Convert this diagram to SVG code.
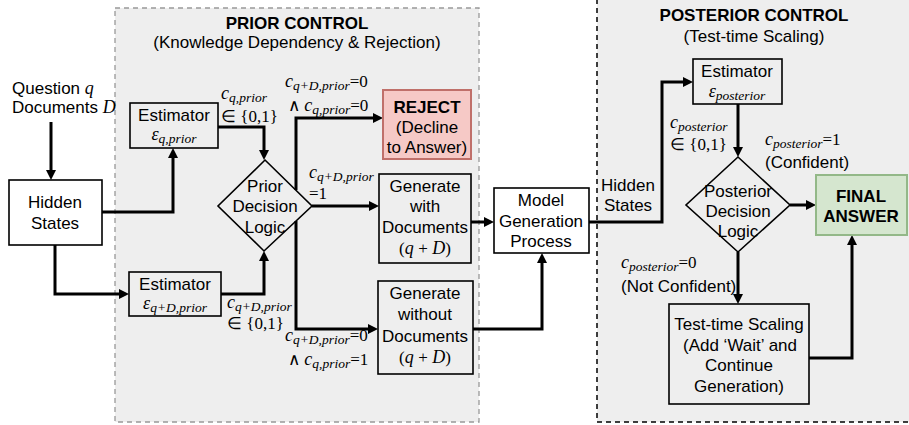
<svg xmlns="http://www.w3.org/2000/svg" width="909" height="425" viewBox="0 0 909 425">
  <style>
    .t { font-family: "Liberation Sans", Arial, sans-serif; font-size: 17px; fill: #000; }
    .c { text-anchor: middle; }
    .b { font-weight: bold; }
    .m { font-family: "Liberation Serif", "Times New Roman", serif; font-style: italic; font-size: 18px; fill: #000; }
    .s { font-size: 13.5px; }
    .u { font-style: normal; font-size: 17px; }
    .box { fill: none; stroke: #000; stroke-width: 1.6; }
    .wbox { fill: #fff; stroke: #000; stroke-width: 1.6; }
    .conn { fill: none; stroke: #000; stroke-width: 3; marker-end: url(#ah); }
  </style>
  <defs>
    <marker id="ah" markerWidth="11" markerHeight="10" refX="0" refY="5" orient="auto" markerUnits="userSpaceOnUse">
      <path d="M0,0 L10,5 L0,10 z" fill="#000"/>
    </marker>
  </defs>

  <rect width="909" height="425" fill="#fff"/>

  <!-- control regions -->
  <g id="prior-control">
    <rect x="115" y="8" width="364" height="414" fill="#eeeeee" stroke="#999" stroke-width="1.3" stroke-dasharray="5,4"/>
    <text class="t c b" x="297" y="29" font-size="18.5">PRIOR CONTROL</text>
    <text class="t c" x="297" y="48" font-size="16.5">(Knowledge Dependency &amp; Rejection)</text>
  </g>
  <g id="posterior-control">
    <rect x="597" y="-5" width="320" height="427" fill="#eeeeee" stroke="#000" stroke-width="1.5" stroke-dasharray="5,4"/>
    <text class="t c b" x="754" y="21" font-size="18.5">POSTERIOR CONTROL</text>
    <text class="t c" x="754" y="42" font-size="16.5">(Test-time Scaling)</text>
  </g>

  <!-- connectors -->
  <g id="connectors">
    <path class="conn" d="M51,122 V170"/>
    <path class="conn" d="M102,212 H173 V158"/>
    <path class="conn" d="M55,245 V294 H119"/>
    <path class="conn" d="M218,127 H264 V150"/>
    <path class="conn" d="M221,294 H264 V261"/>
    <path class="conn" d="M296,190 V118 H373"/>
    <path class="conn" d="M312,206 H369"/>
    <path class="conn" d="M296,221 V329 H368"/>
    <path class="conn" d="M471,222 H484"/>
    <path class="conn" d="M473,329 H542 V263"/>
    <path class="conn" d="M589,222 H662 V82 H683"/>
    <path class="conn" d="M738,104 V147"/>
    <path class="conn" d="M790,205 H806"/>
    <path class="conn" d="M738,252 V294"/>
    <path class="conn" d="M809,358 H852 V245"/>
  </g>

  <!-- inputs -->
  <g id="inputs">
    <text class="t" x="12" y="94">Question <tspan class="m" font-size="18">q</tspan></text>
    <text class="t" x="12" y="113">Documents <tspan class="m" font-size="18">D</tspan></text>
  </g>

  <g id="hidden-states">
    <rect class="wbox" x="9" y="180" width="93" height="65"/>
    <text class="t c" x="55" y="208">Hidden</text>
    <text class="t c" x="55" y="229">States</text>
  </g>

  <g id="estimator-q-prior">
    <rect class="box" x="130" y="103" width="88" height="45"/>
    <text class="t c" x="174" y="121">Estimator</text>
    <text class="m c" x="174" y="140">ε<tspan class="s" dy="3">q,prior</tspan></text>
  </g>

  <g id="estimator-qd-prior">
    <rect class="box" x="129" y="272" width="92" height="44"/>
    <text class="t c" x="175" y="290">Estimator</text>
    <text class="m c" x="175" y="309">ε<tspan class="s" dy="3">q+D,prior</tspan></text>
  </g>

  <g id="prior-decision">
    <path class="box" d="M265,160 L312,206 L264,251 L218,206 Z"/>
    <text class="t c" x="265" y="192">Prior</text>
    <text class="t c" x="265" y="212">Decision</text>
    <text class="t c" x="265" y="233">Logic</text>
  </g>

  <g id="reject">
    <rect x="383" y="90" width="88" height="69" fill="#f6c9c6" stroke="#c0706a" stroke-width="2"/>
    <text class="t c b" x="427" y="113">REJECT</text>
    <text class="t c" x="427" y="133">(Decline</text>
    <text class="t c" x="427" y="153">to Answer)</text>
  </g>

  <g id="generate-with-docs">
    <rect class="box" x="379" y="174" width="92" height="89"/>
    <text class="t c" x="425" y="192">Generate</text>
    <text class="t c" x="425" y="212">with</text>
    <text class="t c" x="425" y="233">Documents</text>
    <text class="m c" x="425" y="254" font-size="17"><tspan class="u">(</tspan>q <tspan class="u">+</tspan> D<tspan class="u">)</tspan></text>
  </g>

  <g id="generate-without-docs">
    <rect class="box" x="378" y="281" width="95" height="93"/>
    <text class="t c" x="425" y="299">Generate</text>
    <text class="t c" x="425" y="320">without</text>
    <text class="t c" x="425" y="342">Documents</text>
    <text class="m c" x="425" y="363" font-size="17"><tspan class="u">(</tspan>q <tspan class="u">+</tspan> D<tspan class="u">)</tspan></text>
  </g>

  <g id="model-generation">
    <rect class="wbox" x="494" y="188" width="95" height="65"/>
    <text class="t c" x="541" y="206">Model</text>
    <text class="t c" x="541" y="227">Generation</text>
    <text class="t c" x="541" y="247">Process</text>
  </g>

  <g id="hidden-states-label">
    <text class="t c" x="628" y="191">Hidden</text>
    <text class="t c" x="628" y="211">States</text>
  </g>

  <g id="estimator-posterior">
    <rect class="box" x="693" y="59" width="89" height="45"/>
    <text class="t c" x="737" y="77">Estimator</text>
    <text class="m c" x="737" y="97">ε<tspan class="s" dy="3">posterior</tspan></text>
  </g>

  <g id="posterior-decision">
    <path class="box" d="M738,157 L790,205 L738,252 L686,205 Z"/>
    <text class="t c" x="738" y="197">Posterior</text>
    <text class="t c" x="738" y="217">Decision</text>
    <text class="t c" x="738" y="237">Logic</text>
  </g>

  <g id="final-answer">
    <rect x="816" y="175" width="91" height="60" fill="#d5e6cf" stroke="#93b888" stroke-width="2"/>
    <text class="t c b" x="861" y="202">FINAL</text>
    <text class="t c b" x="861" y="222">ANSWER</text>
  </g>

  <g id="test-time-scaling">
    <rect class="box" x="669" y="304" width="140" height="100"/>
    <text class="t c" x="739" y="330">Test-time Scaling</text>
    <text class="t c" x="740" y="351">(Add ‘Wait’ and</text>
    <text class="t c" x="739" y="371">Continue</text>
    <text class="t c" x="739" y="392">Generation)</text>
  </g>

  <!-- condition labels -->
  <g id="labels">
    <text class="m" x="221" y="99">c<tspan class="s" dy="3">q,prior</tspan></text>
    <text class="m" x="221" y="122"><tspan class="u">∈ {0,1}</tspan></text>

    <text class="m" x="227" y="308">c<tspan class="s" dy="3">q+D,prior</tspan></text>
    <text class="m" x="227" y="329"><tspan class="u">∈ {0,1}</tspan></text>

    <text class="m" x="285" y="87">c<tspan class="s" dy="3">q+D,prior</tspan><tspan class="u" dy="-3">=0</tspan></text>
    <text class="m" x="288" y="111"><tspan class="u">∧ </tspan>c<tspan class="s" dy="3">q,prior</tspan><tspan class="u" dy="-3">=0</tspan></text>

    <text class="m" x="309" y="178">c<tspan class="s" dy="3">q+D,prior</tspan></text>
    <text class="m" x="309" y="199"><tspan class="u">=1</tspan></text>

    <text class="m" x="285" y="341">c<tspan class="s" dy="3">q+D,prior</tspan><tspan class="u" dy="-3">=0</tspan></text>
    <text class="m" x="288" y="365"><tspan class="u">∧ </tspan>c<tspan class="s" dy="3">q,prior</tspan><tspan class="u" dy="-3">=1</tspan></text>

    <text class="m" x="670" y="128">c<tspan class="s" dy="3">posterior</tspan></text>
    <text class="m" x="670" y="150"><tspan class="u">∈ {0,1}</tspan></text>

    <text class="m" x="765" y="145">c<tspan class="s" dy="3">posterior</tspan><tspan class="u" dy="-3">=1</tspan></text>
    <text class="t" x="765" y="168">(Confident)</text>

    <text class="m" x="621" y="268">c<tspan class="s" dy="3">posterior</tspan><tspan class="u" dy="-3">=0</tspan></text>
    <text class="t" x="621" y="292">(Not Confident)</text>
  </g>
</svg>
